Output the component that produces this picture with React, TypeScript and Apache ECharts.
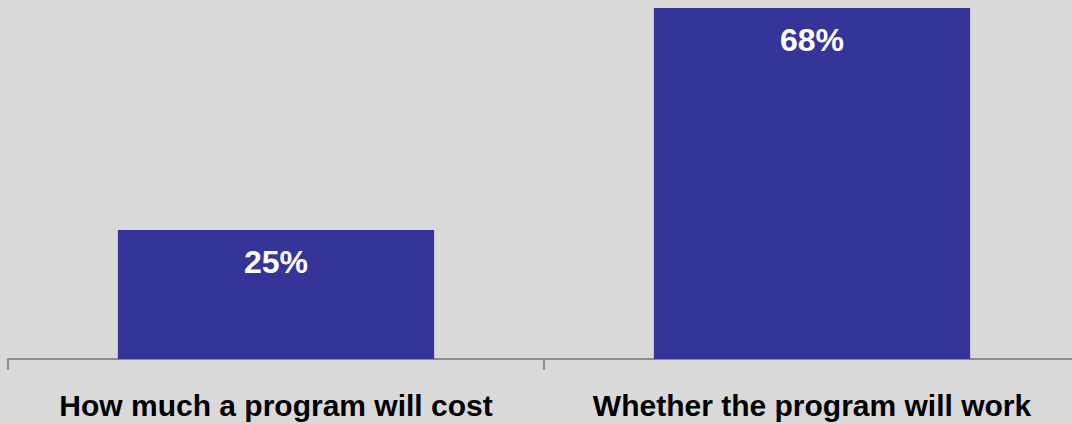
import React, { useEffect, useRef } from "react";
import * as echarts from "echarts";

const categories = ["How much a program will cost", "Whether the program will work"];
const values = [25, 68];

export default function App() {
  const ref = useRef<HTMLDivElement>(null);
  useEffect(() => {
    if (!ref.current) return;
    const chart = echarts.init(ref.current, null, { renderer: "svg" });
    chart.setOption({
      animation: false,
      backgroundColor: "#d9d9d9",
      grid: { left: 8, right: 8, top: 8, bottom: 65, containLabel: false },
      xAxis: {
        type: "category",
        data: categories,
        axisLine: { show: true, lineStyle: { color: "#8c8c8c", width: 2 } },
        axisTick: { show: true, interval: 0, length: 11, alignWithLabel: false, lineStyle: { color: "#8c8c8c", width: 2 } },
        axisLabel: {
          interval: 0,
          color: "#000000",
          fontFamily: "Liberation Sans, Arial, sans-serif",
          fontWeight: "bold",
          fontSize: 30,
          margin: 31,
        },
      },
      yAxis: {
        type: "value",
        min: 0,
        max: 68,
        show: false,
        splitLine: { show: false },
      },
      series: [
        {
          type: "bar",
          data: values,
          barCategoryGap: "41%",
          itemStyle: { color: "#343499" },
          label: {
            show: true,
            position: "insideTop",
            distance: 16,
            formatter: "{c}%",
            color: "#ffffff",
            fontFamily: "Liberation Sans, Arial, sans-serif",
            fontWeight: "bold",
            fontSize: 32,
          },
        },
      ],
    });
    return () => chart.dispose();
  }, []);
  return (
    <div
      ref={ref}
      style={{ position: "fixed", left: 0, top: 0, width: 1088, height: 424 }}
    />
  );
}
